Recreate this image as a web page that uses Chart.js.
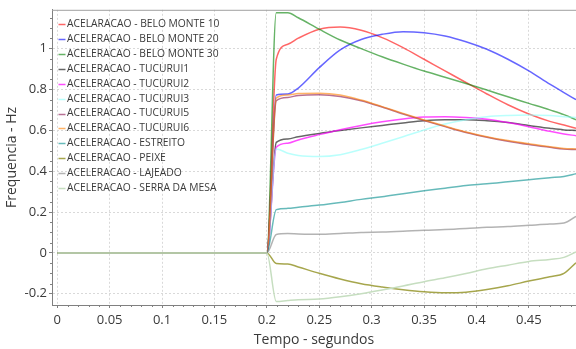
<!DOCTYPE html>
<html><head><meta charset="utf-8">
<script src="https://cdn.jsdelivr.net/npm/chart.js@4"></script>
<style>html,body{margin:0;padding:0;background:#fff;}canvas{display:block;}</style>
</head><body>
<canvas id="c" width="576" height="349"></canvas>
<script>
// ---- data ----
const time = [0, 0.2, 0.209, 0.22, 0.23, 0.25, 0.27, 0.29, 0.31, 0.33, 0.35, 0.37, 0.39, 0.41, 0.43, 0.45, 0.47, 0.4835, 0.495];
const seriesNames = [
  'ACELARACAO - BELO MONTE 10', 'ACELERACAO - BELO MONTE 20', 'ACELERACAO - BELO MONTE 30',
  'ACELERACAO - TUCURUI1', 'ACELERACAO - TUCURUI2', 'ACELERACAO - TUCURUI3',
  'ACELERACAO - TUCURUI5', 'ACELERACAO - TUCURUI6', 'ACELERACAO - ESTREITO',
  'ACELERACAO - PEIXE', 'ACELERACAO - LAJEADO', 'ACELERACAO - SERRA DA MESA'
];
const beloMonte10 = [0, 0, 0.948, 1.021, 1.051, 1.095, 1.106, 1.090, 1.054, 1.005, 0.948, 0.891, 0.834, 0.778, 0.725, 0.680, 0.644, 0.626, 0.610];
const beloMonte20 = [0, 0, 0.773, 0.778, 0.807, 0.907, 0.994, 1.045, 1.070, 1.083, 1.078, 1.062, 1.034, 0.997, 0.948, 0.891, 0.826, 0.785, 0.750];
const beloMonte30 = [0, 0, 1.176, 1.176, 1.151, 1.095, 1.042, 1.000, 0.960, 0.924, 0.890, 0.860, 0.829, 0.797, 0.764, 0.732, 0.700, 0.677, 0.652];
const tucurui1 = [0, 0, 0.541, 0.558, 0.569, 0.585, 0.599, 0.612, 0.624, 0.636, 0.647, 0.652, 0.652, 0.647, 0.638, 0.624, 0.610, 0.602, 0.599];
const tucurui2 = [0, 0, 0.517, 0.537, 0.553, 0.579, 0.603, 0.624, 0.642, 0.656, 0.665, 0.667, 0.663, 0.654, 0.638, 0.618, 0.595, 0.582, 0.574];
const tucurui3 = [0, 0, 0.509, 0.488, 0.477, 0.472, 0.481, 0.506, 0.537, 0.569, 0.602, 0.631, 0.652, 0.667, 0.673, 0.675, 0.672, 0.667, 0.663];
const tucurui5 = [0, 0, 0.745, 0.761, 0.771, 0.774, 0.766, 0.745, 0.714, 0.680, 0.648, 0.618, 0.589, 0.566, 0.547, 0.531, 0.517, 0.508, 0.506];
const tucurui6 = [0, 0, 0.758, 0.773, 0.780, 0.782, 0.773, 0.748, 0.716, 0.683, 0.651, 0.621, 0.592, 0.569, 0.550, 0.534, 0.520, 0.511, 0.509];
const estreito = [0, 0, 0.212, 0.218, 0.224, 0.234, 0.247, 0.262, 0.275, 0.290, 0.304, 0.317, 0.330, 0.338, 0.348, 0.358, 0.368, 0.374, 0.387];
const peixe = [0, 0, -0.052, -0.054, -0.069, -0.100, -0.128, -0.151, -0.167, -0.180, -0.190, -0.195, -0.192, -0.179, -0.161, -0.138, -0.117, -0.100, -0.048];
const lajeado = [0, 0, 0.090, 0.095, 0.093, 0.091, 0.095, 0.100, 0.102, 0.106, 0.111, 0.114, 0.119, 0.125, 0.129, 0.135, 0.141, 0.146, 0.179];
const serraDaMesa = [0, 0, -0.238, -0.233, -0.229, -0.226, -0.215, -0.200, -0.182, -0.162, -0.141, -0.122, -0.101, -0.078, -0.060, -0.042, -0.032, -0.022, 0.005];

const xTickValues = [0, 0.05, 0.1, 0.15, 0.2, 0.25, 0.3, 0.35, 0.4, 0.45];
const xTickLabels = ['0', '0.05', '0.1', '0.15', '0.2', '0.25', '0.3', '0.35', '0.4', '0.45'];
const yTickValues = [-0.2, 0, 0.2, 0.4, 0.6, 0.8, 1];
const yTickLabels = ['-0.2', '0', '0.2', '0.4', '0.6', '0.8', '1'];

// ---- styles ----
const allSeries = [beloMonte10, beloMonte20, beloMonte30, tucurui1, tucurui2, tucurui3, tucurui5, tucurui6, estreito, peixe, lajeado, serraDaMesa];
const colors = [
  'rgba(255,0,0,0.6)', 'rgba(0,0,255,0.6)', 'rgba(0,128,0,0.6)', 'rgba(0,0,0,0.6)',
  'rgba(255,0,255,0.7)', 'rgba(140,255,250,0.6)', 'rgba(153,51,102,0.7)', 'rgba(255,128,0,0.6)',
  'rgba(0,140,140,0.6)', 'rgba(128,128,0,0.7)', 'rgba(128,128,128,0.6)', 'rgb(198,222,192)'
];

Chart.defaults.font.family = "'Open Sans', sans-serif";
Chart.defaults.color = '#3a3a3a';

const extras = {
  id: 'extras',
  afterDraw(chart) {
    const {ctx, chartArea: a, scales: {x, y}} = chart;
    ctx.save();
    ctx.strokeStyle = '#a0a0a0';
    ctx.lineWidth = 1;
    ctx.beginPath();
    ctx.moveTo(a.left, a.top + 0.5);
    ctx.lineTo(a.right, a.top + 0.5);
    ctx.stroke();
    ctx.strokeStyle = '#808080';
    ctx.beginPath();
    for (let k = 0; k <= 49; k++) {
      if (k % 5 === 0) continue;
      const px = Math.round(x.getPixelForValue(k / 100)) + 0.5;
      ctx.moveTo(px, a.bottom);
      ctx.lineTo(px, a.bottom + 2);
    }
    for (let k = -4; k <= 23; k++) {
      if (k % 4 === 0) continue;
      const py = Math.round(y.getPixelForValue(k * 0.05)) + 0.5;
      ctx.moveTo(a.left - 2, py);
      ctx.lineTo(a.left, py);
    }
    ctx.stroke();
    // legend
    ctx.font = '10.3px "Open Sans"';
    ctx.textBaseline = 'middle';
    ctx.textAlign = 'left';
    chart.data.datasets.forEach((ds, i) => {
      const cy = a.top + 14.3 + i * 14.91;
      ctx.strokeStyle = ds.borderColor;
      ctx.lineWidth = 1.5;
      ctx.beginPath();
      ctx.moveTo(a.left + 6.5, Math.round(cy) + 0.5);
      ctx.lineTo(a.left + 13.5, Math.round(cy) + 0.5);
      ctx.stroke();
      ctx.fillStyle = '#3a3a3a';
      ctx.fillText(ds.label, a.left + 15, cy);
    });
    ctx.restore();
  }
};

new Chart(document.getElementById('c'), {
  type: 'line',
  data: {
    datasets: allSeries.map((vals, i) => ({
      label: seriesNames[i],
      data: time.map((t, j) => ({x: t, y: vals[j]})),
      borderColor: colors[i],
      borderWidth: 1.5,
      pointRadius: 0,
      cubicInterpolationMode: 'monotone',
      order: -i
    }))
  },
  options: {
    responsive: false,
    animation: false,
    devicePixelRatio: 1,
    layout: {padding: {top: 9, right: 0, left: 0, bottom: 0}},
    plugins: {legend: {display: false}, tooltip: {enabled: false}},
    scales: {
      x: {
        type: 'linear',
        min: -0.005, max: 0.495,
        afterBuildTicks: s => { s.ticks = xTickValues.map(v => ({value: v})); },
        afterFit: s => { s.height = 44; },
        ticks: {
          callback: (v, i) => xTickLabels[i],
          font: {size: 13}, padding: 4, maxRotation: 0, autoSkip: false, includeBounds: false
        },
        grid: {color: '#d9d9d9', tickColor: '#808080', tickLength: 3},
        border: {color: '#808080', dash: [2, 2]},
        title: {display: true, text: 'Tempo - segundos', font: {size: 14}, padding: {top: 0, bottom: 1}, color: '#3a3a3a'}
      },
      y: {
        type: 'linear',
        min: -0.255, max: 1.19,
        afterBuildTicks: s => { s.ticks = yTickValues.map(v => ({value: v})); },
        afterFit: s => { s.width = 52; },
        ticks: {
          callback: (v, i) => yTickLabels[i],
          font: {size: 13}, padding: 2, autoSkip: false, includeBounds: false
        },
        grid: {color: '#d9d9d9', tickColor: '#808080', tickLength: 3},
        border: {color: '#808080', dash: [2, 2]},
        title: {display: true, text: 'Frequencia - Hz', font: {size: 14}, padding: {top: 4, bottom: 0}, color: '#3a3a3a'}
      }
    }
  },
  plugins: [extras]
});
</script>
</body></html>
